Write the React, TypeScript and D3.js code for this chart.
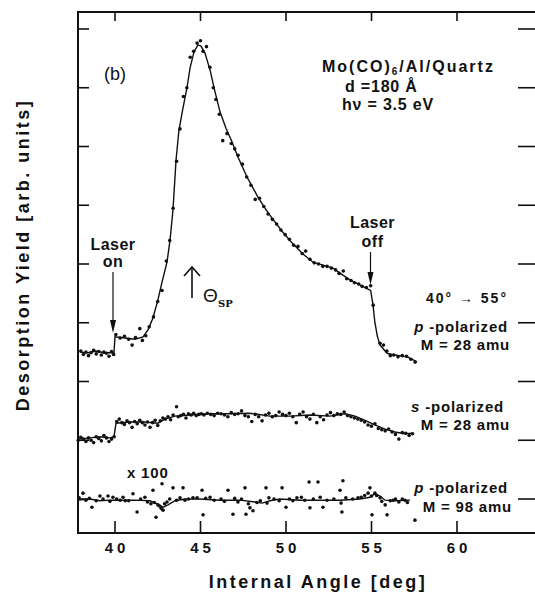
import React from "react";
import * as d3 from "d3";

const W = 535;
const H = 594;
const FRAME = { left: 78, right: 536, top: 12, bottom: 533 };

// x ticks (deg) and y ticks (arb. units)
const xTicks = [40, 45, 50, 55, 60];
const yTicks = [0, 1, 2, 3, 4, 5, 6, 7, 8];

// p-polarized, M = 28 amu : fitted line
const pLine28: [number, number][] = [
  [37.95, 2.5], [38.42, 2.49], [38.89, 2.52], [39.36, 2.49], [39.94, 2.49],
  [40.0, 2.76], [40.58, 2.74], [41.17, 2.72], [41.64, 2.76], [41.93, 2.88],
  [42.22, 3.08], [42.51, 3.39], [42.75, 3.69], [43.04, 4.03], [43.22, 4.41],
  [43.39, 4.92], [43.57, 5.77], [43.74, 6.28], [43.98, 6.66], [44.21, 7.0],
  [44.39, 7.34], [44.62, 7.61], [44.85, 7.73], [45.03, 7.71], [45.26, 7.59],
  [45.56, 7.3], [45.85, 6.93], [46.14, 6.59], [46.49, 6.31], [46.84, 6.08],
  [47.19, 5.82], [47.72, 5.48], [48.36, 5.14], [48.77, 4.95], [49.18, 4.78],
  [49.82, 4.54], [50.35, 4.36], [50.99, 4.17], [51.58, 4.03], [52.16, 3.98],
  [52.75, 3.93], [53.33, 3.81], [53.74, 3.73], [54.21, 3.66], [54.68, 3.59],
  [54.95, 3.55], [55.09, 3.3], [55.2, 3.0], [55.35, 2.76], [55.5, 2.62],
  [55.91, 2.48], [56.37, 2.45], [57.08, 2.42], [57.37, 2.38], [57.66, 2.33],
];

// p-polarized, M = 28 amu : measured points
const pDots28: [number, number][] = [
  [38.0, 2.52], [38.15, 2.46], [38.3, 2.5], [38.45, 2.44], [38.6, 2.49], [38.75, 2.53],
  [38.9, 2.47], [39.05, 2.51], [39.2, 2.45], [39.35, 2.5], [39.5, 2.48], [39.65, 2.43],
  [39.8, 2.51], [39.92, 2.46], [40.05, 2.8], [40.3, 2.74], [40.55, 2.77], [40.8, 2.72],
  [41.0, 2.62], [41.2, 2.75], [41.45, 2.9], [41.6, 2.7], [41.8, 2.78], [42.0, 2.93],
  [42.25, 3.1], [42.5, 3.36], [42.75, 3.55], [43.0, 4.05], [43.2, 4.4], [43.4, 4.95],
  [43.6, 5.75], [43.8, 6.3], [44.0, 6.85], [44.2, 7.0], [44.4, 7.52], [44.6, 7.62],
  [44.8, 7.76], [45.0, 7.8], [45.15, 7.62], [45.35, 7.7], [45.55, 7.35], [45.75, 7.0],
  [45.9, 6.8], [46.1, 6.55], [46.3, 6.1], [46.55, 6.22], [46.8, 6.05], [47.0, 5.96],
  [47.2, 5.85], [47.45, 5.7], [47.7, 5.48], [47.95, 5.34], [48.2, 5.1], [48.45, 5.12],
  [48.7, 4.98], [48.95, 4.85], [49.2, 4.76], [49.45, 4.68], [49.7, 4.58], [49.95, 4.5],
  [50.2, 4.42], [50.45, 4.32], [50.7, 4.3], [50.95, 4.18], [51.15, 4.22], [51.4, 4.08],
  [51.65, 4.02], [51.9, 4.0], [52.15, 3.96], [52.4, 3.96], [52.65, 3.93], [52.9, 3.9],
  [53.1, 3.84], [53.35, 3.88], [53.55, 3.75], [53.8, 3.72], [54.0, 3.68], [54.25, 3.66],
  [54.45, 3.62], [54.7, 3.6], [54.95, 3.63], [55.1, 3.3], [55.5, 2.65], [55.7, 2.62],
  [55.9, 2.52], [56.1, 2.44], [56.3, 2.45], [56.55, 2.42], [56.8, 2.44], [57.05, 2.43],
  [57.3, 2.38], [57.55, 2.33],
];

// s-polarized, M = 28 amu : fitted line
const sLine28: [number, number][] = [
  [37.84, 1.02], [38.54, 1.04], [39.12, 1.06], [39.71, 1.04], [39.94, 1.06],
  [40.06, 1.29], [40.88, 1.31], [41.75, 1.31], [42.51, 1.29], [42.92, 1.36],
  [43.51, 1.41], [44.39, 1.43], [45.56, 1.45], [46.73, 1.45], [47.89, 1.46],
  [49.06, 1.41], [50.23, 1.41], [51.4, 1.43], [52.57, 1.41], [53.45, 1.45],
  [54.04, 1.41], [54.62, 1.34], [55.2, 1.26], [55.79, 1.19], [56.37, 1.14],
  [56.96, 1.11], [57.43, 1.12],
];

// s-polarized, M = 28 amu : measured points
const sDots28: [number, number][] = [
  [37.85, 1.0], [38.0, 1.05], [38.15, 1.02], [38.3, 0.98], [38.45, 1.04], [38.6, 1.0],
  [38.75, 0.96], [38.9, 1.06], [39.05, 1.03], [39.2, 0.99], [39.35, 1.08], [39.5, 1.04],
  [39.65, 0.98], [39.8, 1.02], [39.95, 1.06], [40.1, 1.32], [40.25, 1.36], [40.4, 1.3],
  [40.55, 1.27], [40.7, 1.33], [40.85, 1.3], [41.0, 1.22], [41.15, 1.32], [41.3, 1.28],
  [41.45, 1.34], [41.6, 1.3], [41.75, 1.26], [41.9, 1.31], [42.05, 1.22], [42.2, 1.3],
  [42.35, 1.34], [42.5, 1.25], [42.65, 1.33], [42.8, 1.38], [42.95, 1.36], [43.1, 1.4],
  [43.25, 1.35], [43.4, 1.43], [43.6, 1.57], [43.7, 1.4], [43.85, 1.42], [44.0, 1.44],
  [44.15, 1.38], [44.3, 1.45], [44.45, 1.43], [44.6, 1.46], [44.75, 1.42], [44.9, 1.44],
  [45.05, 1.45], [45.2, 1.43], [45.4, 1.46], [45.6, 1.44], [45.8, 1.42], [46.0, 1.46],
  [46.2, 1.45], [46.4, 1.43], [46.6, 1.4], [46.8, 1.47], [47.0, 1.44], [47.2, 1.45],
  [47.4, 1.5], [47.6, 1.42], [47.8, 1.4], [48.0, 1.32], [48.2, 1.44], [48.4, 1.4],
  [48.6, 1.33], [48.8, 1.43], [49.0, 1.46], [49.2, 1.4], [49.4, 1.42], [49.6, 1.48],
  [49.8, 1.44], [50.0, 1.42], [50.2, 1.46], [50.4, 1.4], [50.6, 1.3], [50.8, 1.44],
  [51.0, 1.48], [51.2, 1.4], [51.4, 1.36], [51.6, 1.44], [51.8, 1.3], [52.0, 1.4],
  [52.2, 1.35], [52.4, 1.43], [52.6, 1.47], [52.8, 1.42], [53.0, 1.45], [53.2, 1.44],
  [53.4, 1.48], [53.6, 1.42], [53.8, 1.4], [54.0, 1.38], [54.2, 1.36], [54.4, 1.34],
  [54.6, 1.31], [54.8, 1.26], [55.0, 1.24], [55.2, 1.28], [55.4, 1.2], [55.6, 1.18],
  [55.8, 1.16], [56.0, 1.19], [56.2, 1.14], [56.4, 1.1], [56.6, 1.02], [56.8, 1.13],
  [57.0, 1.12], [57.2, 1.08], [57.4, 1.11],
];

// p-polarized, M = 98 amu (x 100) : fitted line
const pLine98: [number, number][] = [
  [37.84, -0.02], [38.54, 0.0], [39.12, -0.03], [39.71, -0.02], [40.29, -0.02],
  [41.17, -0.02], [42.05, -0.03], [42.51, -0.09], [42.81, -0.14], [43.1, -0.1],
  [43.51, -0.03], [44.09, 0.0], [44.97, 0.0], [46.14, -0.02], [47.31, -0.02],
  [48.19, -0.05], [48.6, -0.07], [49.06, -0.03], [49.65, 0.0], [50.82, -0.02],
  [51.99, -0.02], [53.16, -0.02], [54.33, 0.0], [54.91, 0.03], [55.2, 0.09],
  [55.5, 0.05], [55.79, -0.02], [56.37, -0.03], [57.25, -0.02],
];

// p-polarized, M = 98 amu (x 100) : measured points
const pDots98: [number, number][] = [
  [37.9, 0.02], [38.13, 0.1], [38.3, -0.02], [38.5, 0.01], [38.65, -0.14], [38.9, -0.03],
  [39.12, 0.05], [39.3, 0.0], [39.59, 0.05], [39.7, -0.04], [39.88, 0.03], [40.1, 0.0],
  [40.3, -0.02], [40.47, 0.03], [40.6, -0.03], [40.8, -0.03], [41.05, 0.09], [41.29, -0.22],
  [41.5, 0.0], [41.75, 0.03], [41.9, -0.05], [42.1, -0.08], [42.22, 0.15], [42.3, -0.06],
  [42.4, -0.31], [42.51, -0.1], [42.6, -0.12], [42.7, -0.16], [42.75, 0.26], [42.81, -0.19],
  [42.9, -0.08], [43.04, -0.05], [43.2, 0.0], [43.39, 0.19], [43.6, -0.02], [43.8, 0.02],
  [43.98, 0.19], [44.09, -0.02], [44.3, 0.0], [44.56, 0.02], [44.8, 0.02], [45.09, 0.15],
  [45.15, -0.27], [45.3, 0.01], [45.56, 0.03], [45.8, -0.02], [46.2, 0.0], [46.4, -0.04],
  [46.61, 0.15], [46.9, -0.26], [47.0, 0.01], [47.19, -0.05], [47.4, 0.0], [47.6, 0.19],
  [47.66, -0.26], [47.8, -0.08], [47.89, -0.15], [48.07, -0.2], [48.3, -0.06], [48.5, -0.03],
  [48.83, 0.19], [48.89, -0.07], [49.0, 0.02], [49.3, 0.0], [49.6, -0.03], [49.77, 0.19],
  [50.0, -0.14], [50.2, 0.0], [50.4, -0.03], [50.64, 0.02], [50.9, 0.03], [51.1, -0.02],
  [51.35, 0.29], [51.4, -0.15], [51.6, 0.0], [51.87, 0.29], [52.0, 0.03], [52.16, -0.14],
  [52.4, -0.02], [52.8, 0.0], [53.16, 0.15], [53.22, -0.07], [53.27, -0.22], [53.33, 0.31],
  [53.5, 0.02], [53.9, 0.0], [54.21, 0.02], [54.4, 0.03], [54.6, 0.06], [54.8, 0.1],
  [54.91, 0.19], [55.0, 0.05], [55.03, -0.27], [55.2, 0.1], [55.3, 0.06], [55.5, 0.02],
  [55.6, -0.04], [55.8, -0.1], [55.91, -0.27], [56.1, -0.03], [56.26, -0.02], [56.4, 0.0],
  [56.6, -0.05], [56.8, 0.0], [56.96, -0.02], [57.1, -0.06], [57.54, -0.36],
];

const FONT = "'Liberation Sans', Arial, Helvetica, sans-serif";

export default function App() {
  const x = d3.scaleLinear().domain([40, 60]).range([115, 457]);
  const y = d3.scaleLinear().domain([0, 8]).range([499, 29]);

  const line = d3
    .line<[number, number]>()
    .x((d) => x(d[0]))
    .y((d) => y(d[1]))
    .curve(d3.curveLinear);

  const dots = (data: [number, number][], key: string) =>
    data.map((d, i) => (
      <circle key={key + i} cx={x(d[0])} cy={y(d[1])} r={1.8} fill="#111" />
    ));

  const txt = {
    fontFamily: FONT,
    fontWeight: 700,
    fill: "#111",
  } as const;

  const onX = x(40) - 2;
  const offX = x(55) - 1;

  return (
    <svg
      width={W}
      height={H}
      style={{ position: "absolute", left: 0, top: 0, background: "#fff" }}
    >
      <rect width={W} height={H} fill="#fff" />

      {/* frame */}
      <rect
        x={FRAME.left}
        y={FRAME.top}
        width={FRAME.right - FRAME.left}
        height={FRAME.bottom - FRAME.top}
        fill="none"
        stroke="#111"
        strokeWidth={2}
      />

      {/* ticks */}
      {xTicks.map((t) => (
        <g key={"xt" + t}>
          <line x1={x(t)} x2={x(t)} y1={FRAME.bottom} y2={FRAME.bottom - 12} stroke="#111" strokeWidth={1.6} />
          <line x1={x(t)} x2={x(t)} y1={FRAME.top} y2={FRAME.top + 9} stroke="#111" strokeWidth={1.6} />
          <text
            x={x(t) + 2}
            y={553}
            textAnchor="middle"
            fontSize={15}
            letterSpacing={4}
            {...txt}
          >
            {t}
          </text>
        </g>
      ))}
      {yTicks.map((t) => (
        <g key={"yt" + t}>
          <line x1={FRAME.left} x2={FRAME.left + 11} y1={y(t)} y2={y(t)} stroke="#111" strokeWidth={1.6} />
          <line x1={518} x2={FRAME.right} y1={y(t)} y2={y(t)} stroke="#111" strokeWidth={1.6} />
        </g>
      ))}

      {/* curves */}
      <path d={line(pLine28) ?? ""} fill="none" stroke="#111" strokeWidth={1.4} />
      <path d={line(sLine28) ?? ""} fill="none" stroke="#111" strokeWidth={1.4} />
      <path d={line(pLine98) ?? ""} fill="none" stroke="#111" strokeWidth={1.4} />
      {dots(pDots28, "p")}
      {dots(sDots28, "s")}
      {dots(pDots98, "m")}

      {/* axis titles */}
      <text x={318} y={588} textAnchor="middle" fontSize={18} letterSpacing={2.5} {...txt}>
        Internal Angle [deg]
      </text>
      <text
        transform="translate(29,255) rotate(-90)"
        textAnchor="middle"
        fontSize={18}
        letterSpacing={2.5}
        {...txt}
      >
        Desorption Yield [arb. units]
      </text>

      {/* panel label and sample info */}
      <text x={104} y={80} fontSize={18} fontFamily={FONT} fill="#111">
        (b)
      </text>
      <text x={322} y={72} fontSize={16} letterSpacing={2} {...txt}>
        Mo(CO)<tspan fontSize={10} dy={3}>6</tspan>
        <tspan dy={-3}>/Al/Quartz</tspan>
      </text>
      <text x={345} y={92} fontSize={16} letterSpacing={0.8} {...txt}>
        d =180 Å
      </text>
      <text x={342} y={110} fontSize={16} letterSpacing={0.8} {...txt}>
        hν = 3.5 eV
      </text>

      {/* laser on */}
      <text x={onX} y={250} textAnchor="middle" fontSize={16} letterSpacing={0.5} {...txt}>
        Laser
      </text>
      <text x={onX} y={267} textAnchor="middle" fontSize={16} letterSpacing={0.5} {...txt}>
        on
      </text>
      <line x1={onX} x2={onX} y1={272} y2={322} stroke="#111" strokeWidth={1.2} />
      <path d={`M${onX - 3},${320} L${onX + 3},${320} L${onX},${333} Z`} fill="#111" />

      {/* laser off */}
      <text x={offX + 2} y={228} textAnchor="middle" fontSize={16} letterSpacing={0.5} {...txt}>
        Laser
      </text>
      <text x={offX + 2} y={247} textAnchor="middle" fontSize={16} letterSpacing={0.5} {...txt}>
        off
      </text>
      <line x1={offX} x2={offX} y1={252} y2={274} stroke="#111" strokeWidth={1.2} />
      <path d={`M${offX - 3},${272} L${offX + 3},${272} L${offX},${285} Z`} fill="#111" />

      {/* theta_SP marker */}
      <line x1={192} x2={192} y1={298} y2={268} stroke="#111" strokeWidth={1.6} />
      <path d="M184,276 L192,267 L200,276" fill="none" stroke="#111" strokeWidth={1.6} />
      <text x={203} y={302} fontSize={19} fontFamily={FONT} fill="#111">
        Θ
      </text>
      <text x={218} y={307} fontSize={10} fontFamily="'DejaVu Serif', serif" fontWeight={700} fill="#111">
        SP
      </text>

      {/* series labels */}
      <text x={508} y={303} textAnchor="end" fontSize={14} letterSpacing={2} {...txt}>
        40° → 55°
      </text>
      <text x={508} y={332} textAnchor="end" fontSize={15} letterSpacing={0.8} {...txt}>
        <tspan fontStyle="italic">p</tspan> -polarized
      </text>
      <text x={510} y={350} textAnchor="end" fontSize={15} letterSpacing={0.8} {...txt}>
        M = 28 amu
      </text>
      <text x={504} y={412} textAnchor="end" fontSize={15} letterSpacing={0.8} {...txt}>
        <tspan fontStyle="italic">s</tspan> -polarized
      </text>
      <text x={510} y={430} textAnchor="end" fontSize={15} letterSpacing={0.8} {...txt}>
        M = 28 amu
      </text>
      <text x={127} y={478} fontSize={15} letterSpacing={0.8} {...txt}>
        x 100
      </text>
      <text x={508} y={493} textAnchor="end" fontSize={15} letterSpacing={0.8} {...txt}>
        <tspan fontStyle="italic">p</tspan> -polarized
      </text>
      <text x={512} y={512} textAnchor="end" fontSize={15} letterSpacing={0.8} {...txt}>
        M = 98 amu
      </text>
    </svg>
  );
}
